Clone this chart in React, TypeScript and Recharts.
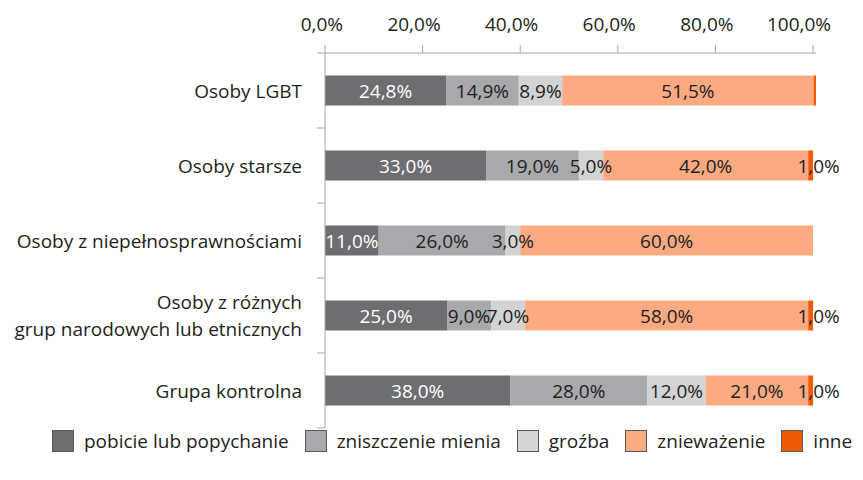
import React from "react";
import { BarChart, Bar, XAxis, YAxis, LabelList } from "recharts";

const categories = [
  "Osoby LGBT",
  "Osoby starsze",
  "Osoby z niepełnosprawnościami",
  "Osoby z różnych\ngrup narodowych lub etnicznych",
  "Grupa kontrolna",
];
const pobicie = [24.8, 33.0, 11.0, 25.0, 38.0];
const zniszczenie = [14.9, 19.0, 26.0, 9.0, 28.0];
const grozba = [8.9, 5.0, 3.0, 7.0, 12.0];
const zniewazenie = [51.5, 42.0, 60.0, 58.0, 21.0];
const inne = [0.5, 1.0, 0.0, 1.0, 1.0];
const xTicks = [0, 20, 40, 60, 80, 100];

const seriesNames = ["pobicie lub popychanie", "zniszczenie mienia", "groźba", "znieważenie", "inne"];
const seriesKeys = ["pobicie", "zniszczenie", "grozba", "zniewazenie", "inne"];
const seriesValues = [pobicie, zniszczenie, grozba, zniewazenie, inne];
const colors = ["#6d6e71", "#a7a9ac", "#d1d3d4", "#fcaa82", "#ef5a06"];
const labelColors = ["#ffffff", "#231f20", "#231f20", "#231f20", "#231f20"];

const data = categories.map((name, i) => {
  const row: Record<string, any> = { name };
  seriesKeys.forEach((k, s) => {
    row[k] = seriesValues[s][i];
  });
  return row;
});

const W = 863;
const H = 480;
const MARGIN = { top: 0, right: 47, bottom: 52, left: 0 };
const X_AXIS_H = 53;
const Y_AXIS_W = 325;
const BAND = (H - MARGIN.top - MARGIN.bottom - X_AXIS_H) / categories.length;
const FONT = "'Open Sans', sans-serif";
const TEXT = "#231f20";
const AXIS = "#a6a6a6";
const FS = 19;

const fmt = (v: number) => v.toFixed(1).replace(".", ",") + "%";

const XTick = (props: any) => {
  const { x, y, payload } = props;
  return (
    <text x={x + 18} y={y} textAnchor="end" fontSize={FS} fill={TEXT} fontFamily={FONT}>
      {fmt(payload.value)}
    </text>
  );
};

const YTick = (props: any) => {
  const { x, y, payload, index } = props;
  const lines = String(payload.value).split("\n");
  const lh = 27;
  const axisX = x + 23;
  return (
    <g>
      {lines.map((l, i) => (
        <text
          key={i}
          x={x}
          y={y + (i - (lines.length - 1) / 2) * lh}
          textAnchor="end"
          dominantBaseline="central"
          fontSize={FS}
          fill={TEXT}
          fontFamily={FONT}
        >
          {l}
        </text>
      ))}
      <line x1={axisX - 8} x2={axisX} y1={y + BAND / 2} y2={y + BAND / 2} stroke={AXIS} />
      {index === 0 && <line x1={axisX - 8} x2={axisX} y1={y - BAND / 2} y2={y - BAND / 2} stroke={AXIS} />}
    </g>
  );
};

const makeLabel = (s: number) => (props: any) => {
  const { x, y, width, height, value } = props;
  if (value == null || value < 1) return null;
  const dx = s === 4 ? 8 : 0;
  return (
    <text
      x={x + width / 2 + dx}
      y={y + height / 2}
      textAnchor="middle"
      dominantBaseline="central"
      fontSize={FS}
      fill={labelColors[s]}
      fontFamily={FONT}
    >
      {fmt(value)}
    </text>
  );
};

export default function App() {
  return (
    <div style={{ position: "absolute", left: 0, top: 0, width: W, height: H, background: "#fff", fontFamily: FONT }}>
      <BarChart width={W} height={H} data={data} layout="vertical" margin={MARGIN} barCategoryGap="30%">
        <XAxis
          type="number"
          orientation="top"
          domain={[0, 100]}
          ticks={xTicks}
          height={X_AXIS_H}
          tickSize={8}
          tickMargin={14}
          tick={<XTick />}
          axisLine={{ stroke: AXIS }}
          tickLine={{ stroke: AXIS }}
        />
        <YAxis
          type="category"
          dataKey="name"
          width={Y_AXIS_W}
          tickSize={0}
          tickMargin={23}
          tickLine={false}
          interval={0}
          tick={<YTick />}
          axisLine={{ stroke: AXIS }}
        />
        {seriesKeys.map((k, s) => (
          <Bar key={k} dataKey={k} name={seriesNames[s]} stackId="a" fill={colors[s]} isAnimationActive={false}>
            <LabelList dataKey={k} content={makeLabel(s)} />
          </Bar>
        ))}
      </BarChart>
      <div
        style={{
          position: "absolute",
          left: 52,
          top: 430,
          display: "flex",
          alignItems: "center",
          whiteSpace: "nowrap",
          fontSize: 19,
          color: TEXT,
          lineHeight: "22px",
        }}
      >
        {seriesNames.map((n, s) => (
          <div key={n} style={{ display: "flex", alignItems: "center", marginRight: 16 }}>
            <div
              style={{
                width: 20,
                height: 20,
                background: colors[s],
                border: "1px solid #58595b",
                marginRight: 10,
              }}
            />
            <span>{n}</span>
          </div>
        ))}
      </div>
    </div>
  );
}
